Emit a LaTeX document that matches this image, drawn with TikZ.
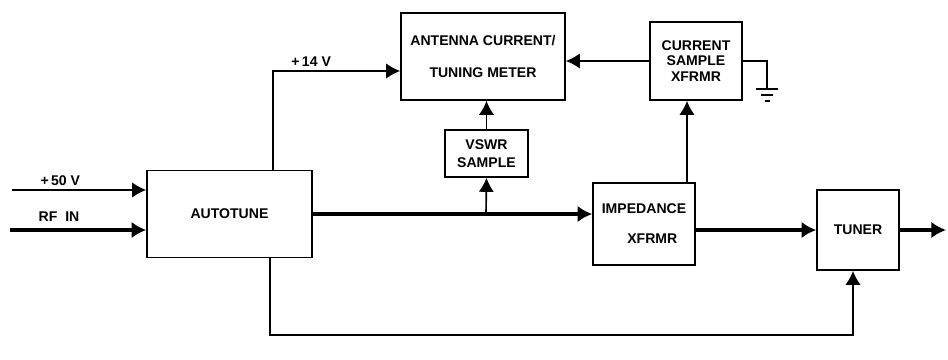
\documentclass[tikz,border=0pt]{standalone}
\usepackage{fontspec}
\setmainfont{Liberation Sans}
\usetikzlibrary{arrows.meta,positioning,calc}
\begin{document}
\begin{tikzpicture}[x=0.3mm,y=-0.3mm,
  blk/.style={draw,line width=1.4pt,align=center,font=\fontsize{12}{13}\selectfont\bfseries,inner sep=2pt},
  sig/.style={draw,line width=1.4pt,-{Latex[length=4.2mm,width=4.6mm]}},
  pwr/.style={draw,line width=3.8pt,-{Latex[length=4.4mm,width=5mm]}},
  lbl/.style={font=\fontsize{12}{13}\selectfont\bfseries}]
\useasboundingbox (0,0) rectangle (948,360);
\node[blk,minimum width=49.5mm,minimum height=26.1mm] (at) at (229.5,214) {AUTOTUNE};
\node[blk,minimum width=49.2mm,minimum height=26.1mm] (ant) at (483,56.5) {ANTENNA CURRENT/\\[5.3mm]TUNING METER};
\node[blk,minimum width=27.6mm,minimum height=23.4mm] (cs) at (696,61) {CURRENT\\SAMPLE\\XFRMR};
\node[blk,minimum width=24.9mm,minimum height=14.1mm] (vs) at (486.5,153.5) {VSWR\\[2.3pt]SAMPLE};
\node[blk,minimum width=30.6mm,minimum height=24.6mm] (imp) at (644,224) {IMPEDANCE\\[4.4mm]\hspace*{5mm}XFRMR};
\node[blk,minimum width=24.6mm,minimum height=24mm] (tun) at (858,230) {TUNER};
\coordinate (p50) at (12,190);
\coordinate (rf) at (10,230);
\coordinate (k14) at (273,71);
\coordinate (tap) at (486,214);
\coordinate (ct) at (687,0);
\coordinate (gnd) at (767,89);
\coordinate (bl) at (270,335);
\coordinate (br) at (853,335);
\coordinate (out) at (946,230);
\draw[sig] (p50) -- node[lbl,above,pos=0.36]{+\,50 V} (p50 -| at.west);
\draw[pwr] (rf) -- node[lbl,above=2pt,pos=0.36]{RF~~IN} (rf -| at.west);
\draw[sig] (at.north -| k14) -- (k14) -- node[lbl,above,pos=0.3]{+\,14 V} (k14 -| ant.west);
\draw[sig] (cs.west) -- (cs.west -| ant.east);
\draw[line width=1.4pt] (cs.east) -| (gnd);
\draw[line width=1.4pt] ($(gnd)+(-11,0)$) -- ($(gnd)+(11,0)$);
\draw[line width=1.4pt] ($(gnd)+(-6,6)$) -- ($(gnd)+(6,6)$);
\draw[line width=1.4pt] ($(gnd)+(-2.5,12)$) -- ($(gnd)+(2.5,12)$);
\draw[sig] (vs.north) -- (vs.north |- ant.south);
\draw[sig] (tap) -- (vs.south);
\draw[pwr] (at.east) -- (at.east -| imp.west);
\draw[pwr] (imp.east |- tun.west) -- (tun.west);
\draw[pwr] (tun.east) -- (out);
\draw[sig] (imp.north -| ct) -- (cs.south -| ct);
\draw[sig] (at.south -| bl) -- (bl) -- (br) -- (tun.south -| br);
\end{tikzpicture}
\end{document}
